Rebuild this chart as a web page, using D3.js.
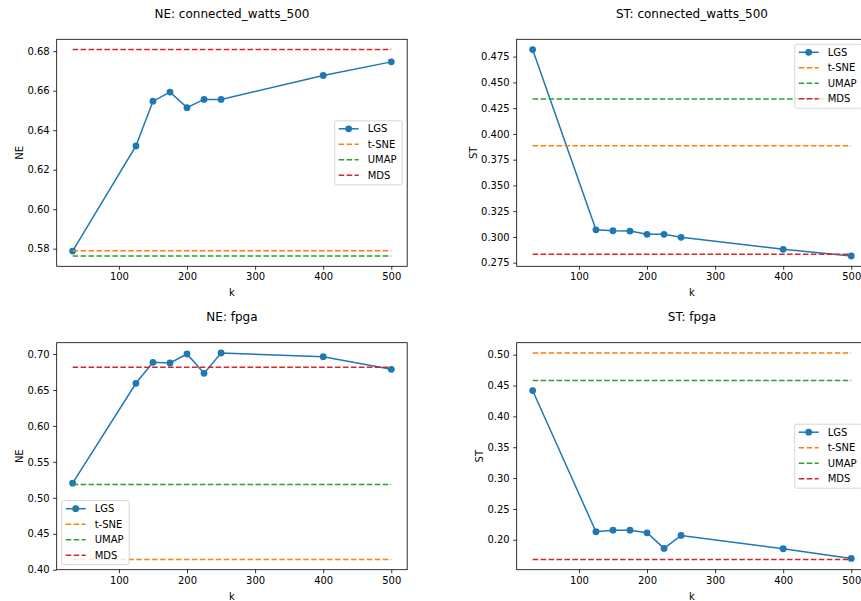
<!DOCTYPE html>
<html>
<head>
<meta charset="utf-8">
<script src="https://cdn.jsdelivr.net/npm/d3@7"></script>
<style>
  body { margin: 0; background: #fff; }
  svg { display: block; font-family: "DejaVu Sans", sans-serif; }
</style>
</head>
<body>
<div id="grafovi"></div>
<script>
// podaci
const kValues = [32, 125, 150, 175, 200, 225, 250, 400, 500];
const metode = ["LGS", "t-SNE", "UMAP", "MDS"];
const boje = ["#1f77b4", "#ff7f0e", "#2ca02c", "#d62728"];

// NE: connected_watts_500
const neWattsLGS = [0.5788, 0.6320, 0.6547, 0.6593, 0.6514, 0.6556, 0.6556, 0.6677, 0.6746];
const neWattsOstali = [0.5790, 0.5763, 0.6808]; // t-SNE, UMAP, MDS
const neWattsTicks = ["0.58", "0.60", "0.62", "0.64", "0.66", "0.68"];

// ST: connected_watts_500
const stWattsLGS = [0.4818, 0.3069, 0.3060, 0.3057, 0.3025, 0.3025, 0.2996, 0.2880, 0.2815];
const stWattsOstali = [0.3886, 0.4338, 0.2831];
const stWattsTicks = ["0.275", "0.300", "0.325", "0.350", "0.375", "0.400", "0.425", "0.450", "0.475"];

// NE: fpga
const neFpgaLGS = [0.5204, 0.6593, 0.6884, 0.6875, 0.7000, 0.6731, 0.7014, 0.6963, 0.6787];
const neFpgaOstali = [0.4144, 0.5185, 0.6815];
const neFpgaTicks = ["0.40", "0.45", "0.50", "0.55", "0.60", "0.65", "0.70"];

// ST: fpga
const stFpgaLGS = [0.4419, 0.2130, 0.2156, 0.2156, 0.2113, 0.1860, 0.2070, 0.1854, 0.1698];
const stFpgaOstali = [0.5027, 0.4581, 0.1682];
const stFpgaTicks = ["0.20", "0.25", "0.30", "0.35", "0.40", "0.45", "0.50"];

const xTicks = [100, 200, 300, 400, 500];

const paneli = [
    { naslov: "NE: connected_watts_500", yLabel: "NE", lgs: neWattsLGS, ostali: neWattsOstali, ticks: neWattsTicks, red: 0, stupac: 0, legenda: "center right" },
    { naslov: "ST: connected_watts_500", yLabel: "ST", lgs: stWattsLGS, ostali: stWattsOstali, ticks: stWattsTicks, red: 0, stupac: 1, legenda: "upper right" },
    { naslov: "NE: fpga", yLabel: "NE", lgs: neFpgaLGS, ostali: neFpgaOstali, ticks: neFpgaTicks, red: 1, stupac: 0, legenda: "lower left" },
    { naslov: "ST: fpga", yLabel: "ST", lgs: stFpgaLGS, ostali: stFpgaOstali, ticks: stFpgaTicks, red: 1, stupac: 1, legenda: "center right" },
];

// dimenzije
const dimenzije = {
    sirina: 861,
    visina: 601,
    lijevo: [56.7, 516.7],
    gore: [39.3, 342.7],
    grSirina: 350.5,
    grVisina: 227,
};

const svg = d3.select("#grafovi")
    .append("svg")
    .attr("width", dimenzije.sirina)
    .attr("height", dimenzije.visina);

// matplotlib dodaje 5% margine
function margina(ext) {
    const d = ext[1] - ext[0];
    return [ext[0] - 0.05 * d, ext[1] + 0.05 * d];
}

paneli.forEach(p => {
    const x0 = dimenzije.lijevo[p.stupac];
    const y0 = dimenzije.gore[p.red];
    const w = dimenzije.grSirina;
    const h = dimenzije.grVisina;

    const okvir = svg.append("g")
        .attr("transform", `translate(${x0},${y0})`);

    const xScale = d3.scaleLinear()
        .domain(margina(d3.extent(kValues)))
        .range([0, w]);

    const sveVrijednosti = p.lgs.concat(p.ostali);
    const yScale = d3.scaleLinear()
        .domain(margina(d3.extent(sveVrijednosti)))
        .range([h, 0]);

    // osi
    const xOs = okvir.append("g")
        .attr("transform", `translate(0,${h})`)
        .call(d3.axisBottom(xScale).tickValues(xTicks).tickFormat(d3.format("d")).tickSize(3.5).tickPadding(3.5));

    const yOs = okvir.append("g")
        .call(d3.axisLeft(yScale).tickValues(p.ticks.map(Number)).tickFormat((d, i) => p.ticks[i]).tickSize(3.5).tickPadding(3.5));

    [xOs, yOs].forEach(os => {
        os.select(".domain").remove();
        os.selectAll("line").attr("stroke", "#000").attr("stroke-width", 0.8);
        os.selectAll("text").attr("fill", "#000").style("font-size", "10px").style("font-family", "DejaVu Sans");
    });

    // linije ostalih metoda
    p.ostali.forEach((v, i) => {
        okvir.append("path")
            .datum([kValues[0], kValues[kValues.length - 1]])
            .attr("d", d3.line().x(d => xScale(d)).y(() => yScale(v)))
            .attr("fill", "none")
            .attr("stroke", boje[i + 1])
            .attr("stroke-width", 1.5)
            .attr("stroke-dasharray", "5.55,2.4");
    });

    // LGS
    const podaci = kValues.map((k, i) => ({ k: k, v: p.lgs[i] }));
    okvir.insert("path", "path")
        .datum(podaci)
        .attr("d", d3.line().x(d => xScale(d.k)).y(d => yScale(d.v)))
        .attr("fill", "none")
        .attr("stroke", boje[0])
        .attr("stroke-width", 1.5);

    const tocke = okvir.insert("g", "path:nth-of-type(2)");
    tocke.selectAll("circle")
            .data(podaci)
        .enter().append("circle")
            .attr("cx", d => xScale(d.k))
            .attr("cy", d => yScale(d.v))
            .attr("r", 3.4)
            .attr("fill", boje[0]);

    // okvir grafa
    okvir.append("rect")
        .attr("width", w)
        .attr("height", h)
        .attr("fill", "none")
        .attr("stroke", "#000")
        .attr("stroke-width", 0.8);

    // naslovi
    okvir.append("text")
        .attr("x", w / 2)
        .attr("y", -21.3)
        .attr("text-anchor", "middle")
        .style("font-size", "12px")
        .text(p.naslov);

    okvir.append("text")
        .attr("x", w / 2)
        .attr("y", h + 30)
        .attr("text-anchor", "middle")
        .style("font-size", "10px")
        .text("k");

    const yBox = yOs.node().getBBox();
    okvir.append("text")
        .attr("transform", `translate(${yBox.x - 4},${h / 2}) rotate(-90)`)
        .attr("text-anchor", "middle")
        .style("font-size", "10px")
        .text(p.yLabel);

    // legenda
    const lw = 67.5, lh = 64;
    let lx, ly;
    if (p.legenda === "center right") { lx = w - 5 - lw; ly = h / 2 - lh / 2; }
    if (p.legenda === "upper right") { lx = w - 5 - lw; ly = 5; }
    if (p.legenda === "lower left") { lx = 5; ly = h - 5 - lh; }

    const legenda = okvir.append("g")
        .attr("transform", `translate(${lx},${ly})`);

    legenda.append("rect")
        .attr("width", lw)
        .attr("height", lh)
        .attr("rx", 2)
        .attr("fill", "#fff")
        .attr("fill-opacity", 0.8)
        .attr("stroke", "#cccccc")
        .attr("stroke-width", 0.8);

    metode.forEach((m, i) => {
        const ry = 8 + i * 15.5;
        legenda.append("line")
            .attr("x1", 4).attr("x2", 24)
            .attr("y1", ry).attr("y2", ry)
            .attr("stroke", boje[i])
            .attr("stroke-width", 1.5)
            .attr("stroke-dasharray", i === 0 ? null : "5.55,2.4");
        if (i === 0) {
            legenda.append("circle")
                .attr("cx", 14).attr("cy", ry)
                .attr("r", 3.4)
                .attr("fill", boje[0]);
        }
        legenda.append("text")
            .attr("x", 33)
            .attr("y", ry)
            .attr("dy", "0.35em")
            .style("font-size", "10px")
            .text(m);
    });
});
</script>
</body>
</html>
